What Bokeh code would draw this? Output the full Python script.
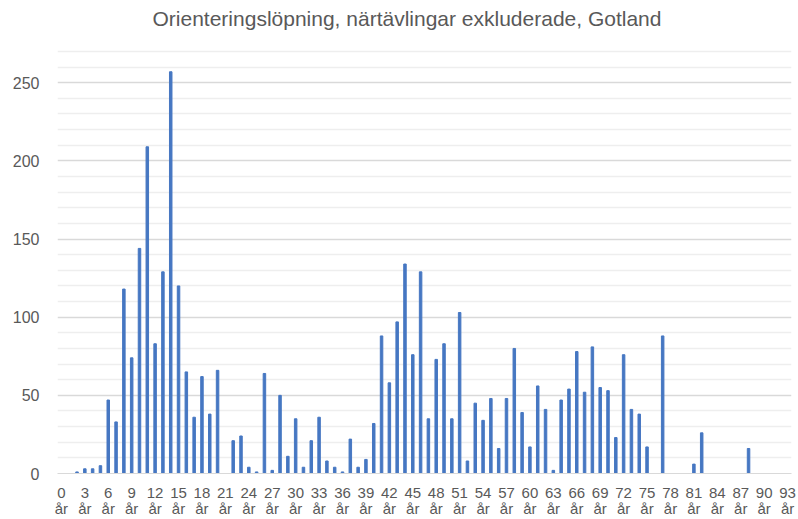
from bokeh.plotting import figure
from bokeh.models import FixedTicker, Range1d, ColumnDataSource
from bokeh.embed import file_html
from bokeh.resources import INLINE

# ages 0..93 (categories)
ages = list(range(0, 94))
counts = [0, 0, 1, 3, 3, 5, 47, 33, 118, 74,
          144, 209, 83, 129, 257, 120, 65, 36, 62, 38,
          66, 0, 21, 24, 4, 1, 64, 2, 50, 11,
          35, 4, 21, 36, 8, 4, 1, 22, 4, 9,
          32, 88, 58, 97, 134, 76, 129, 35, 73, 83,
          35, 103, 8, 45, 34, 48, 16, 48, 80, 39,
          17, 56, 41, 2, 47, 54, 78, 52, 81, 55,
          53, 23, 76, 41, 38, 17, 0, 88, 0, 0,
          0, 6, 26, 0, 0, 0, 0, 0, 16, 0,
          0, 0, 0, 0]
tick_ages = ages[::3]
tick_labels = {a: f"{a}\når" for a in tick_ages}
y_major = [0, 50, 100, 150, 200, 250]
y_minor = [10, 20, 30, 40, 60, 70, 80, 90, 110, 120, 130, 140, 160, 170, 180,
           190, 210, 220, 230, 240, 260, 270]
title_text = "Orienteringslöpning, närtävlingar exkluderade, Gotland"

FONT = "Liberation Sans"
GREY = "#595959"

src = ColumnDataSource(dict(age=ages, n=counts))

# frame is 440 px tall; top gridline (270) sits 17 px below the frame top
p = figure(width=798, height=519, output_backend="svg", toolbar_location=None,
           x_range=Range1d(-0.5, 93.5), y_range=Range1d(0, 280.85),
           min_border_left=57, min_border_right=7, min_border_top=34,
           min_border_bottom=45, outline_line_color=None)

p.vbar(x="age", top="n", width=0.32, source=src, color="#4677C2")

p.title.text = title_text
p.title.align = "left"
p.title.offset = 95
p.title.standoff = 6
p.title.vertical_align = "top"
p.title.text_font = FONT
p.title.text_font_size = "21px"
p.title.text_font_style = "normal"
p.title.text_color = GREY

# x axis
xa = p.xaxis[0]
xa.ticker = FixedTicker(ticks=tick_ages)
xa.major_label_overrides = tick_labels
xa.axis_line_color = "#d9d9d9"
xa.major_tick_line_color = None
xa.minor_tick_line_color = None
xa.major_tick_out = 0
xa.major_tick_in = 0
xa.major_label_text_font = FONT
xa.major_label_text_font_size = "15px"
xa.major_label_text_line_height = 0.95
xa.major_label_text_color = GREY
xa.major_label_standoff = 10

# y axis
ya = p.yaxis[0]
ya.ticker = FixedTicker(ticks=y_major, minor_ticks=y_minor)
ya.axis_line_color = None
ya.major_tick_line_color = None
ya.minor_tick_line_color = None
ya.major_tick_out = 0
ya.major_tick_in = 0
ya.major_label_text_font = FONT
ya.major_label_text_font_size = "16px"
ya.major_label_text_color = GREY
ya.major_label_standoff = 14

p.xgrid.grid_line_color = None
p.ygrid.grid_line_color = "#d9d9d9"
p.ygrid.grid_line_width = 1.3
p.ygrid.minor_grid_line_color = "#eeeeee"
p.ygrid.minor_grid_line_width = 1.3

open("out.html", "w").write(file_html(p, INLINE))
